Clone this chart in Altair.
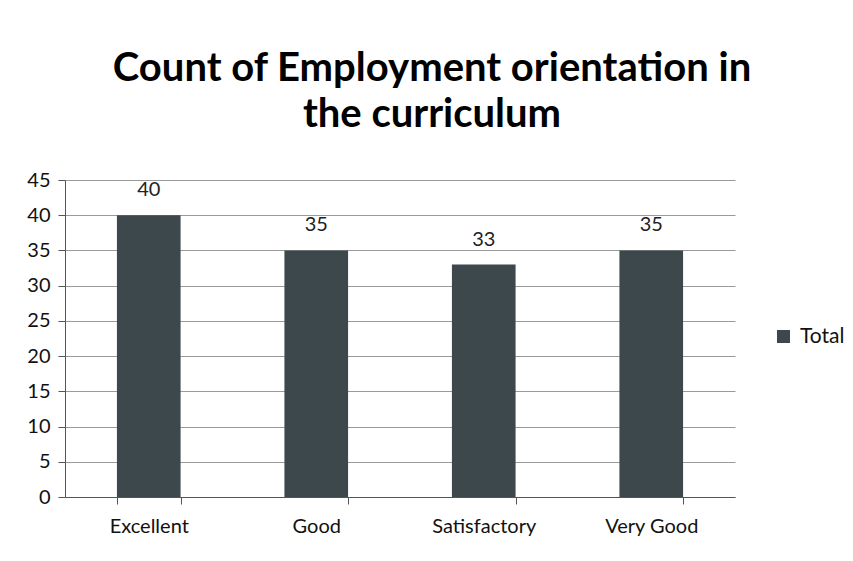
import altair as alt
import pandas as pd

categories = ["Excellent", "Good", "Satisfactory", "Very Good"]
values = [40, 35, 33, 35]
series = ["Total"] * 4
y_ticks = [0, 5, 10, 15, 20, 25, 30, 35, 40, 45]

df = pd.DataFrame({"category": categories, "value": values, "series": series})

FONT = "Lato"
BAR = "#3c484c"

x_enc = alt.X("category:N", sort=categories, title=None,
              scale=alt.Scale(paddingInner=0.62, paddingOuter=0.31),
              axis=alt.Axis(labelAngle=0, labelFontSize=20, labelFont=FONT, labelColor="#111",
                            labelPadding=12, domainColor="#555", tickColor="#555", tickBand="extent",
                            tickSize=7, grid=False))
y_enc = alt.Y("value:Q", title=None,
              scale=alt.Scale(domain=[0, 45], nice=False),
              axis=alt.Axis(values=y_ticks, tickCount=10, labelOverlap=False, labelFontSize=20,
                            labelFont=FONT, labelColor="#111", labelPadding=8, domainColor="#555",
                            tickColor="#555", tickSize=7, gridColor="#9a9a9a", gridWidth=1))

base = alt.Chart(df)

bars = base.mark_bar(color=BAR).encode(
    x=x_enc,
    y=y_enc,
    fill=alt.Fill("series:N", scale=alt.Scale(range=[BAR]),
                  legend=alt.Legend(title=None, orient="none", legendX=708, legendY=146,
                                    symbolType="square", symbolSize=170, symbolFillColor="#111",
                                    symbolStrokeWidth=0, labelFontSize=21, labelFont=FONT,
                                    labelColor="#111", labelOffset=6)),
)

labels = base.mark_text(dy=-25, fontSize=20, font=FONT, color="#222").encode(
    x=x_enc,
    y=y_enc,
    text="value:Q",
)

chart = (bars + labels).properties(
    width=670,
    height=317,
    background="white",
    autosize=alt.AutoSizeParams(type="none"),
    padding={"left": 57, "top": 172, "right": 110, "bottom": 56},
    title=alt.Title(["Count of Employment orientation in", "the curriculum"],
                    fontSize=40, font=FONT, fontWeight="bold", color="#000",
                    anchor="middle", dx=32, offset=35, lineHeight=46),
).configure_view(strokeWidth=0)

chart.save("out.html", embed_options={"renderer": "svg", "actions": False})
